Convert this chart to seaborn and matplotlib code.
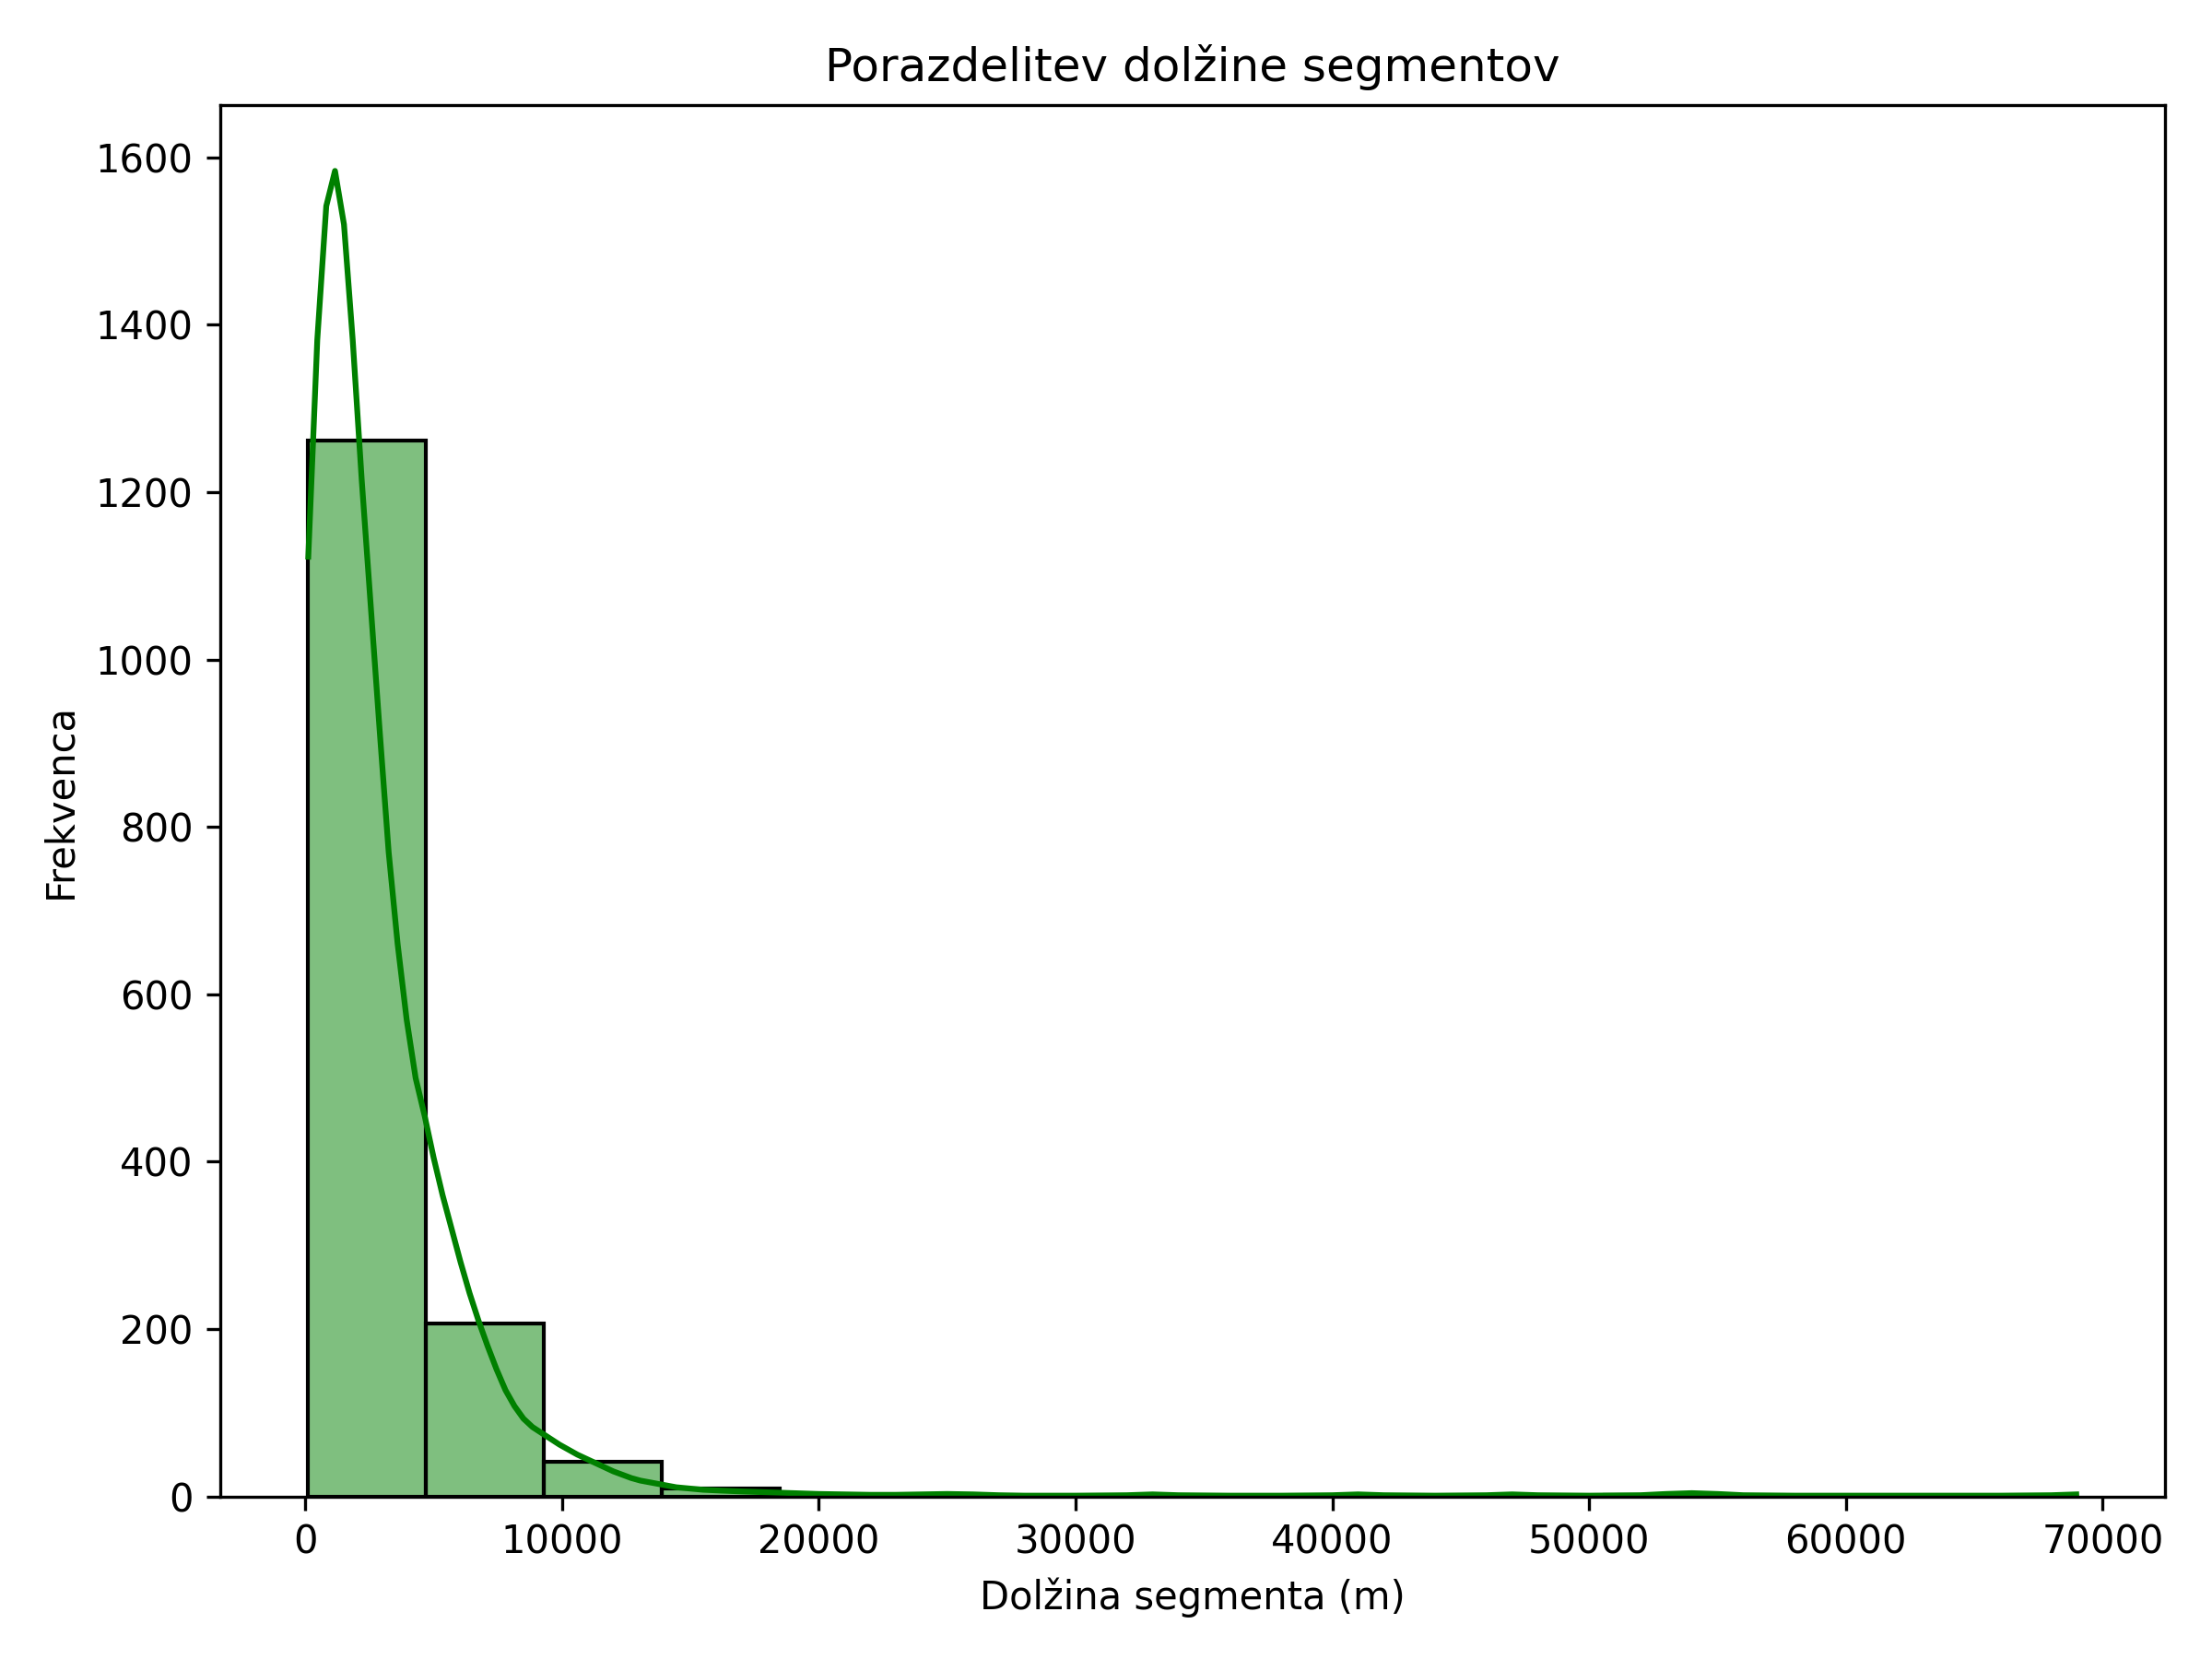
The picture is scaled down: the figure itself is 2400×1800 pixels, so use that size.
import numpy as np
import matplotlib
matplotlib.use("Agg")
import matplotlib.pyplot as plt
import seaborn as sns

# Histogram: 15 enakih razredov med najkrajšim in najdaljšim segmentom
seg_min = 120
seg_max = 68970
counts = [1262, 207, 42, 9, 2, 1, 0, 1, 1, 0, 1, 2, 0, 0, 1]

# KDE krivulja (odčitana s slike), skalirana na frekvence
kde_x = [120, 470, 820, 1160, 1510, 1850, 2200, 2550, 2900, 3250, 3600, 3950,
         4300, 4650, 5000, 5350, 5700, 6050, 6400, 6750, 7100, 7450, 7800,
         8150, 8500, 8850, 9200, 9550, 9900, 10250, 10600, 10950, 11300,
         11650, 12000, 12350, 12700, 13050, 13400, 13750, 14100, 14450,
         14800, 15500, 16200, 17000, 18000, 19000, 20000, 21000, 22000,
         23000, 24000, 25000, 26000, 27000, 28000, 30000, 32000, 33000,
         34000, 36000, 38000, 40000, 41000, 42000, 44000, 46000, 47000,
         48000, 50000, 52000, 53000, 54000, 55000, 56000, 58000, 62000,
         66000, 68000, 68970]
kde_y = [1123, 1382, 1542, 1584, 1520, 1382, 1215, 1065, 915, 770, 660, 570,
         500, 455, 405, 360, 320, 280, 243, 210, 180, 152, 127,
         108, 93, 83, 76, 69, 62, 56, 50, 45, 40,
         35, 30, 26, 22, 19, 17, 15, 13, 11,
         10, 8, 7, 6, 5, 4, 3, 2.5, 2,
         2, 2.5, 3, 2.5, 1.5, 1, 1, 1.5, 2.5,
         1.5, 1, 1, 1.5, 2.5, 1.5, 1, 1.5, 2.5,
         1.5, 1, 1.5, 3, 4, 3, 1.5, 1, 1,
         1, 1.5, 2.5]

edges = np.linspace(seg_min, seg_max, len(counts) + 1)
centers = (edges[:-1] + edges[1:]) / 2

fig, ax = plt.subplots(figsize=(8, 6))

sns.histplot(x=centers, weights=counts, bins=len(counts),
             binrange=(seg_min, seg_max), color="green", alpha=0.5,
             edgecolor="black", ax=ax)
sns.lineplot(x=kde_x, y=kde_y, color="green", linewidth=1.5, ax=ax)

ax.set_title("Porazdelitev dolžine segmentov")
ax.set_xlabel("Dolžina segmenta (m)")
ax.set_ylabel("Frekvenca")
plt.tight_layout()

plt.savefig("out.png", dpi=300)
